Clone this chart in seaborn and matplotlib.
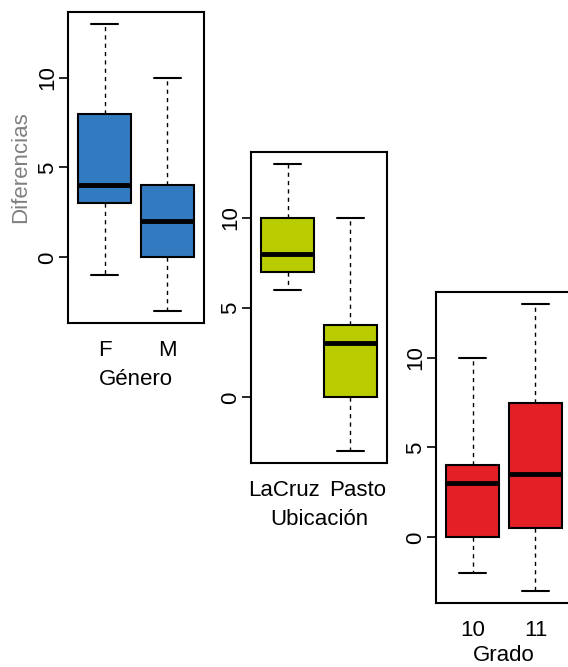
import matplotlib
matplotlib.use("Agg")
import matplotlib.pyplot as plt
import matplotlib.transforms as mtrans
import seaborn as sns
import pandas as pd

# Five-number summaries (min, Q1, median, Q3, max)
genero_cats = ["F", "M"]
genero_F = [-1, 3, 4, 8, 13]
genero_M = [-3, 0, 2, 4, 10]

ubic_cats = ["LaCruz", "Pasto"]
ubic_LaCruz = [6, 7, 8, 10, 13]
ubic_Pasto = [-3, 0, 3, 4, 10]

grado_cats = ["10", "11"]
grado_10 = [-2, 0, 3, 4, 10]
grado_11 = [-3, 0.5, 3.5, 7.5, 13]

y_ticks = [0, 5, 10]
y_tick_labels = ["0", "5", "10"]

colors = ["#337BC1", "#B8CC00", "#E41F26"]

sns.set_theme(style="white")
plt.rcParams["font.family"] = ["Liberation Sans", "DejaVu Sans"]

W, H = 568, 667
fig = plt.figure(figsize=(W / 100, H / 100), dpi=100)

def rect(left, right, top, bottom):
    return [left / W, (H - bottom) / H, (right - left) / W, (bottom - top) / H]

FS = 16

panels = [
    (rect(68, 204, 12, 323), genero_cats, [genero_F, genero_M], "Género", colors[0], True, [0, 0], 6),
    (rect(251, 387, 152, 463), ubic_cats, [ubic_LaCruz, ubic_Pasto], "Ubicación", colors[1], False, [-4, 7], 6),
    (rect(436, 572, 292, 603), grado_cats, [grado_10, grado_11], "Grado", colors[2], False, [0, 0], 3),
]

for pos, cats, vals, xlabel, col, show_ylabel, offs, lpad in panels:
    ax = fig.add_axes(pos)
    df = pd.DataFrame({
        "grp": [c for c, v in zip(cats, vals) for _ in v],
        "val": [x for v in vals for x in v],
    })
    sns.boxplot(
        data=df, x="grp", y="val", order=cats, ax=ax, color=col, saturation=1,
        width=0.84, whis=(0, 100), fliersize=0, linewidth=1.5, linecolor="black",
        medianprops=dict(color="black", linewidth=3.5),
        whiskerprops=dict(color="black", linewidth=1, linestyle=(0, (3, 3))),
        capprops=dict(color="black", linewidth=1.5),
        boxprops=dict(edgecolor="black", linewidth=1.5),
    )
    ax.set_xlim(-0.58, 1.58)
    ax.set_ylim(-3.64, 13.64)
    ax.set_yticks(y_ticks)
    ax.set_yticklabels(y_tick_labels, rotation=90, va="center")
    ax.tick_params(axis="y", left=True, length=6.5, width=1.2, color="black",
                   labelsize=FS, pad=0.5, labelcolor="black")
    ax.tick_params(axis="x", bottom=False, length=0, labelsize=FS, pad=12,
                   labelcolor="black")
    for lbl, dx in zip(ax.get_xticklabels(), offs):
        if dx:
            lbl.set_transform(lbl.get_transform() +
                              mtrans.ScaledTranslation(dx / 100, 0, fig.dpi_scale_trans))
    for s in ax.spines.values():
        s.set_visible(True)
        s.set_color("black")
        s.set_linewidth(1.5)
    ax.set_xlabel(xlabel, fontsize=FS, labelpad=lpad, color="black")
    if show_ylabel:
        ax.set_ylabel("Diferencias", fontsize=FS, color="#808080")
        ax.yaxis.set_label_coords(-0.27, 0.5)
    else:
        ax.set_ylabel("")
    ax.grid(False)

fig.savefig("out.png", dpi=100)
